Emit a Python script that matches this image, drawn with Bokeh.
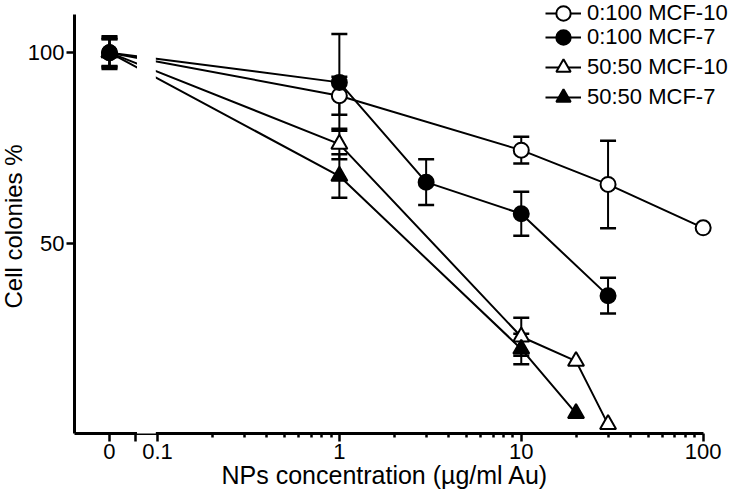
from bokeh.plotting import figure
from bokeh.models import (Range1d, LogAxis, LinearAxis, FixedTicker, LogScale,
                          CustomJSTickFormatter, Legend, LegendItem, BoxAnnotation,
                          Title)
from bokeh.embed import file_html
from bokeh.resources import INLINE

# ---------------- data ----------------
labels = ["0:100 MCF-10", "0:100 MCF-7", "50:50 MCF-10", "50:50 MCF-7"]

conc_a = [0, 1, 10, 30, 100]
mean_a = [100, 88.7, 74.4, 65.4, 54.0]
err_a = [3.5, 5.0, 3.5, 11.5, 0]

conc_b = [0, 1, 3, 10, 30]
mean_b = [100, 92.2, 66.0, 57.7, 36.2]
err_b = [4.3, 12.7, 6.0, 5.8, 4.7]

conc_c = [0, 1, 10, 20, 30]
mean_c = [100, 76.0, 25.4, 19.0, 2.4]
err_c = [3.9, 4.0, 5.0, 0, 0]

conc_d = [0, 1, 10, 20]
mean_d = [100, 67.6, 22.2, 5.3]
err_d = [3.6, 5.7, 4.0, 0]

x_ticks = [0.1, 1, 10, 100]
y_ticks = [50, 100]
x_title = "NPs concentration (µg/ml Au)"
y_title = "Cell colonies %"

# ---------------- layout constants (broken log axis) ----------------
FONT = "Liberation Sans"
FS = "22px"
X_START, X_END = 0.035, 146.8      # frame extent
ZERO_POS = 0.0545                   # where the "0" group sits
LCAP = 0.0757                       # end of the left axis segment
GAP_L, GAP_R = 0.0772, 0.0980       # blank gap of the broken axis
Y_START, Y_END = 0, 113.7
Y_AXIS_TOP = 110

minor = [m * d for d in (0.1, 1, 10) for m in range(2, 10)]


def px(vals):
    return [ZERO_POS if v == 0 else v for v in vals]


p = figure(width=733, height=502, x_range=Range1d(X_START, X_END),
           y_range=Range1d(Y_START, Y_END), x_axis_type="log",
           x_axis_location=None, y_axis_location=None,
           output_backend="svg", toolbar_location=None,
           min_border_left=73, min_border_right=0, min_border_top=0,
           min_border_bottom=69)
p.x_scale = LogScale()
p.outline_line_color = None
p.grid.visible = False
p.background_fill_color = "white"
p.border_fill_color = "white"


def style_axis(ax):
    ax.axis_line_color = "black"
    ax.axis_line_width = 3
    ax.major_tick_line_color = "black"
    ax.major_tick_line_width = 2.5
    ax.minor_tick_line_color = "black"
    ax.minor_tick_line_width = 2.5
    ax.major_tick_in = 0
    ax.major_tick_out = 8
    ax.minor_tick_in = 0
    ax.minor_tick_out = 4
    ax.major_label_standoff = 2
    ax.major_label_text_font = FONT
    ax.major_label_text_font_size = FS
    ax.major_label_text_color = "black"


# one log x axis that carries the "0" group and the 0.1..100 part
xa = LogAxis(bounds=(X_START, 100),
             ticker=FixedTicker(ticks=[ZERO_POS, LCAP] + x_ticks, minor_ticks=minor),
             formatter=CustomJSTickFormatter(
                 args=dict(z=ZERO_POS, c=LCAP),
                 code="if (Math.abs(tick - z) < 1e-6) return '0';"
                      "if (Math.abs(tick - c) < 1e-6) return '';"
                      "return tick.toString();"))
style_axis(xa)
p.add_layout(xa, "below")

# y axis
ya = LinearAxis(bounds=(Y_START, Y_AXIS_TOP), ticker=FixedTicker(ticks=y_ticks))
style_axis(ya)
p.add_layout(ya, "left")

# axis titles (side titles, placed like the original)
p.add_layout(Title(text=x_title, align="left", offset=147, standoff=-6,
                   text_font=FONT, text_font_size="25px",
                   text_font_style="normal", text_color="black"), "below")
p.add_layout(Title(text=y_title, align="left", offset=125, standoff=-5,
                   text_font=FONT, text_font_size="24px",
                   text_font_style="normal", text_color="black"), "left")

series = [
    (conc_a, mean_a, err_a, "circle", "white", 15),
    (conc_b, mean_b, err_b, "circle", "black", 15),
    (conc_c, mean_c, err_c, "triangle", "white", 16),
    (conc_d, mean_d, err_d, "triangle", "black", 16),
]

line_rs = []
for conc, mean, err, mk, fill, sz in series:
    line_rs.append(p.line(px(conc), mean, line_color="black", line_width=2))

for conc, mean, err, mk, fill, sz in series:
    ex = [x for x, e in zip(px(conc), err) if e > 0]
    lo = [m - e for m, e in zip(mean, err) if e > 0]
    hi = [m + e for m, e in zip(mean, err) if e > 0]
    p.segment(x0=ex, y0=lo, x1=ex, y1=hi, line_color="black", line_width=2)
    p.scatter(ex + ex, lo + hi, marker="dash", size=16, line_color="black",
              line_width=2.5)

mark_rs = []
for conc, mean, err, mk, fill, sz in series:
    mark_rs.append(p.scatter(px(conc), mean, marker=mk, size=sz,
                             fill_color=fill, line_color="black", line_width=2))

# blank gap of the broken axis (hides the lines and the axis rule there)
p.add_layout(BoxAnnotation(left=GAP_L, right=GAP_R, bottom=-2.0, top=Y_END,
                           fill_color="white", fill_alpha=1.0,
                           line_color=None, level="overlay"))

# legend: one row each, placed like the original
rows_vy = [402, 378, 348, 318]
for lab, lr, mr, vy in zip(labels, line_rs, mark_rs, rows_vy):
    leg = Legend(items=[LegendItem(label=lab, renderers=[lr, mr])],
                 location=(471, vy), padding=0, margin=0,
                 glyph_width=36, glyph_height=36, label_standoff=6,
                 label_text_font=FONT, label_text_font_size=FS,
                 label_text_color="black", border_line_color=None,
                 background_fill_alpha=0)
    p.add_layout(leg)

open("out.html", "w").write(file_html(p, INLINE))
